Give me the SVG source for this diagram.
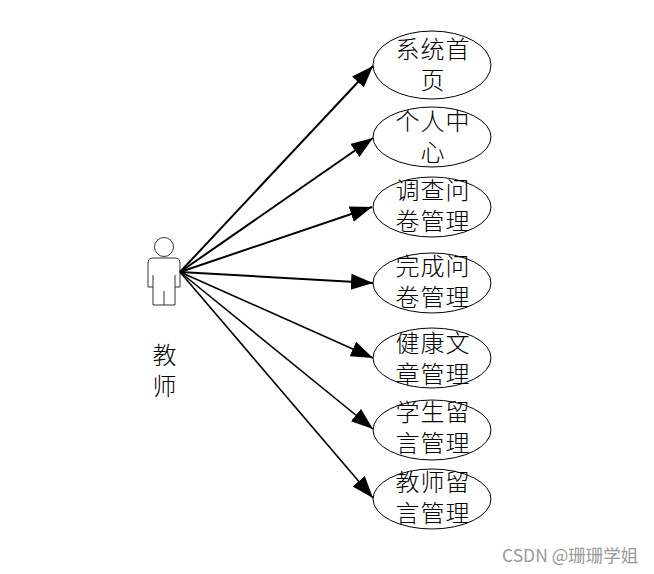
<svg xmlns="http://www.w3.org/2000/svg" width="654" height="574" viewBox="0 0 654 574">
<style>
.n{fill:#fff;stroke:#000;stroke-width:1}
.t{font-family:"Noto Sans CJK SC","Noto Sans CJK JP",sans-serif;font-size:24px;font-weight:300;fill:#000;text-anchor:middle;letter-spacing:1px}
.c line{stroke:#000;stroke-width:2;marker-end:url(#a)}
.c line.s{stroke-width:1.6}
.w{font-family:"Noto Sans CJK SC","Liberation Sans",sans-serif;font-size:17.5px;fill:#999}
</style>
<defs><marker id="a" markerUnits="userSpaceOnUse" markerWidth="23" markerHeight="18" refX="22" refY="8" orient="auto"><path d="M0 0L22 8L0 16Z" fill="#000"/></marker></defs>
<rect width="654" height="574" fill="#fff"/>
<g id="e1"><ellipse class="n" cx="432" cy="65" rx="59" ry="34"/><text class="t" x="433" y="58">系统首<tspan x="433" dy="31">页</tspan></text></g>
<g id="e2"><ellipse class="n" cx="432" cy="137" rx="59" ry="30"/><text class="t" x="433" y="130">个人中<tspan x="433" dy="31">心</tspan></text></g>
<g id="e3"><ellipse class="n" cx="432" cy="207" rx="59" ry="30"/><text class="t" x="433" y="199">调查问<tspan x="433" dy="31">卷管理</tspan></text></g>
<g id="e4"><ellipse class="n" cx="432" cy="283" rx="59" ry="30"/><text class="t" x="433" y="275">完成问<tspan x="433" dy="31">卷管理</tspan></text></g>
<g id="e5"><ellipse class="n" cx="432" cy="358" rx="59" ry="30"/><text class="t" x="433" y="352">健康文<tspan x="433" dy="31">章管理</tspan></text></g>
<g id="e6"><ellipse class="n" cx="432" cy="430" rx="59" ry="30"/><text class="t" x="433" y="421">学生留<tspan x="433" dy="31">言管理</tspan></text></g>
<g id="e7"><ellipse class="n" cx="432" cy="499" rx="59" ry="30"/><text class="t" x="433" y="491">教师留<tspan x="433" dy="31">言管理</tspan></text></g>
<g id="actor">
<circle cx="164" cy="247" r="9.5" fill="#fff" stroke="#333" stroke-width="1"/>
<path d="M153 258H175Q180 258 180 263V287H175V305H153V287H148V263Q148 258 153 258Z" fill="#fff" stroke="#333" stroke-width="1"/>
<path d="M153 275V287M175 275V287M164 291V305" fill="none" stroke="#333" stroke-width="1"/>
<text class="t" x="165" y="364">教<tspan x="165" dy="31">师</tspan></text>
</g>
<g class="c">
<line x1="180" y1="272" x2="373" y2="66"/>
<line x1="180" y1="272" x2="373" y2="138"/>
<line x1="180" y1="272" x2="372" y2="207"/>
<line x1="180" y1="272" x2="373" y2="283"/>
<line class="s" x1="180" y1="272" x2="373" y2="358"/>
<line class="s" x1="180" y1="272" x2="373" y2="429"/>
<line class="s" x1="180" y1="272" x2="373" y2="498"/>
</g>
<text class="w" x="502" y="562">CSDN @珊珊学姐</text>
</svg>
